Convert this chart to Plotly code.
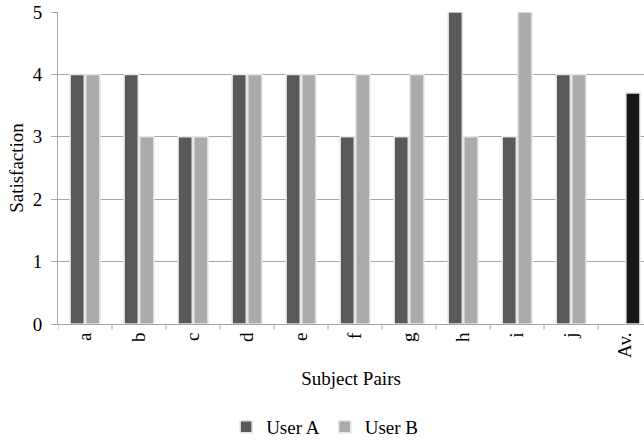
import plotly.graph_objects as go

categories = ["a", "b", "c", "d", "e", "f", "g", "h", "i", "j", "Av."]
user_a = [4, 4, 3, 4, 4, 3, 3, 5, 3, 4, None]
user_b = [4, 3, 3, 4, 4, 4, 4, 3, 5, 4, 3.7]
b_colors = ["#ababab"] * 10 + ["#161616"]

font = "Liberation Serif, Times New Roman, serif"

fig = go.Figure()
fig.add_trace(go.Bar(x=categories, y=user_a, name="User A",
                     marker=dict(color="#595959", line=dict(color="#e6e6e6", width=1.5))))
fig.add_trace(go.Bar(x=categories, y=user_b, name="User B",
                     marker=dict(color=b_colors, line=dict(color="#e6e6e6", width=1.5))))

fig.update_layout(
    width=644, height=440,
    margin=dict(l=58, r=0, t=12, b=116),
    paper_bgcolor="white", plot_bgcolor="white",
    font=dict(family=font, size=19, color="#000000"),
    barmode="group", bargap=0.42, bargroupgap=0.1,
    showlegend=True,
    legend=dict(orientation="h", x=0.455, xanchor="center", yref="container",
                y=0.03, yanchor="middle", font=dict(size=19), traceorder="normal",
                itemwidth=30),
    xaxis=dict(range=[-0.5, 10.35], tickangle=-90, showgrid=False, automargin=False,
               showline=True, linecolor="#a6a6a6", linewidth=1,
               ticks="", tickfont=dict(size=19),
               title=dict(text="Subject Pairs", font=dict(size=19), standoff=14)),
    yaxis=dict(range=[0, 5], dtick=1, showgrid=True, gridcolor="#a6a6a6", gridwidth=1,
               showline=True, linecolor="#a6a6a6", linewidth=1, automargin=False,
               ticks="outside", ticklen=6, tickcolor="#a6a6a6", ticklabelstandoff=5,
               tickfont=dict(size=19), zeroline=False,
               title=dict(text="Satisfaction", font=dict(size=19), standoff=4)),
)

# category boundary tick marks on the x axis
for i in range(len(categories)):
    fig.add_shape(type="line", xref="x", yref="paper", x0=i - 0.5, x1=i - 0.5,
                  y0=0, y1=-0.018, line=dict(color="#a6a6a6", width=1))

fig.write_html("out.html", config={"displayModeBar": False},
               post_script="document.body.style.margin='0';")
